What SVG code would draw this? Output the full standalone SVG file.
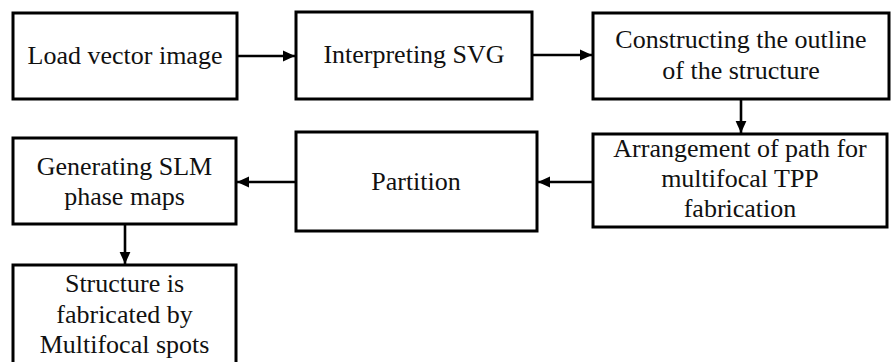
<svg xmlns="http://www.w3.org/2000/svg" width="892" height="362" viewBox="0 0 892 362">
<style>
.box{fill:#fff;stroke:#000;stroke-width:3}
.lbl{font-family:'Liberation Serif','Times New Roman',Tinos,serif;font-size:26px;fill:#111;text-anchor:middle}
.con{stroke:#000;stroke-width:2.6;fill:none}
</style>
<defs>
<marker id="ah" markerUnits="userSpaceOnUse" markerWidth="12" markerHeight="12" viewBox="0 0 10 10" refX="10" refY="5" orient="auto">
<path d="M0,0.5 L10,5 L0,9.5 Z" fill="#000"/>
</marker>
</defs>
<rect width="892" height="362" fill="#fff"/>
<g id="connectors">
<line class="con" x1="237" y1="56" x2="295" y2="56" marker-end="url(#ah)"/>
<line class="con" x1="532" y1="55" x2="592" y2="55" marker-end="url(#ah)"/>
<line class="con" x1="741" y1="99" x2="741" y2="133" marker-end="url(#ah)"/>
<line class="con" x1="593" y1="182" x2="538" y2="182" marker-end="url(#ah)"/>
<line class="con" x1="296" y1="182" x2="237" y2="182" marker-end="url(#ah)"/>
<line class="con" x1="125" y1="224" x2="125" y2="264" marker-end="url(#ah)"/>
</g>
<g id="n1">
<rect class="box" x="13" y="13" width="224" height="86"/>
<text class="lbl" font-family="Liberation Serif, serif" x="125" y="64">Load vector image</text>
</g>
<g id="n2">
<rect class="box" x="296" y="12" width="236" height="87"/>
<text class="lbl" x="414" y="63">Interpreting SVG</text>
</g>
<g id="n3">
<rect class="box" x="593" y="13" width="296" height="86"/>
<text class="lbl" x="741" y="48">Constructing the outline</text>
<text class="lbl" x="741" y="79">of the structure</text>
</g>
<g id="n4">
<rect class="box" x="593" y="134" width="294" height="93"/>
<text class="lbl" x="740" y="157">Arrangement of path for</text>
<text class="lbl" x="740" y="187">multifocal TPP</text>
<text class="lbl" x="740" y="217">fabrication</text>
</g>
<g id="n5">
<rect class="box" x="296" y="132" width="241" height="99"/>
<text class="lbl" x="416" y="190">Partition</text>
</g>
<g id="n6">
<rect class="box" x="13" y="138" width="223" height="86"/>
<text class="lbl" x="124.5" y="175">Generating SLM</text>
<text class="lbl" x="124.5" y="205">phase maps</text>
</g>
<g id="n7">
<rect class="box" x="13" y="265" width="223" height="110"/>
<text class="lbl" x="124.5" y="292">Structure is</text>
<text class="lbl" x="124.5" y="323">fabricated by</text>
<text class="lbl" x="124.5" y="353">Multifocal spots</text>
</g>
</svg>
